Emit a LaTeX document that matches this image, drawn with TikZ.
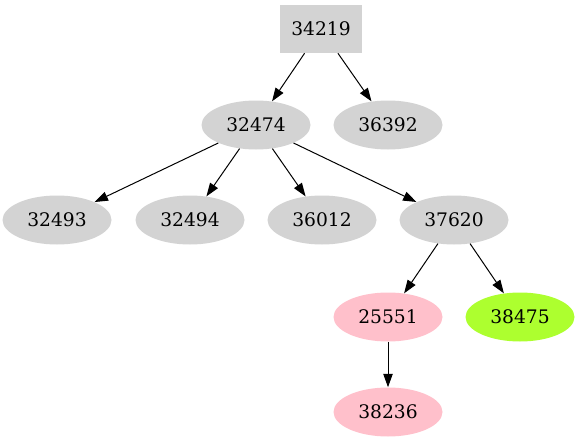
\documentclass[tikz,border=0pt]{standalone}
\usepackage{fontspec}
\setmainfont{DejaVu Serif}
\usepackage{tikz}
\usetikzlibrary{shapes.geometric, arrows.meta}
\definecolor{treegray}{HTML}{D3D3D3}
\definecolor{treepink}{HTML}{FFC0CB}
\definecolor{treegreen}{HTML}{ADFF2F}

\begin{document}
\begin{tikzpicture}[
        x=0.75pt, y=-0.75pt,
        leaf/.style={ellipse, fill=treegray, minimum width=81.75pt, minimum height=36.75pt, inner sep=0pt, font=\fontsize{14}{16}\selectfont},
        rootbox/.style={rectangle, fill=treegray, minimum width=62pt, minimum height=36pt, inner sep=0pt, font=\fontsize{14}{16}\selectfont},
        arrow/.style={-{Triangle[length=10pt, width=7pt]}, line width=0.75pt, black}
    ]
        \useasboundingbox (0,0) rectangle (579,443);
        \node (n34219) [rootbox] at (321,29) {34219};
        \node (n32474) [leaf] at (256,125) {32474};
        \node (n36392) [leaf] at (388,125) {36392};
        \node (n32493) [leaf] at (57,220) {32493};
        \node (n32494) [leaf] at (190,220) {32494};
        \node (n36012) [leaf] at (322,220) {36012};
        \node (n37620) [leaf] at (454,220) {37620};
        \node (n25551) [leaf, fill=treepink] at (388,317) {25551};
        \node (n38475) [leaf, fill=treegreen] at (520,317) {38475};
        \node (n38236) [leaf, fill=treepink] at (388,412) {38236};

        \draw [arrow] (n34219) -- (n32474);
        \draw [arrow] (n34219) -- (n36392);
        \draw [arrow] (n32474) -- (n32493);
        \draw [arrow] (n32474) -- (n32494);
        \draw [arrow] (n32474) -- (n36012);
        \draw [arrow] (n32474) -- (n37620);
        \draw [arrow] (n37620) -- (n25551);
        \draw [arrow] (n37620) -- (n38475);
        \draw [arrow] (n25551) -- (n38236);
    \end{tikzpicture}
\end{document}
